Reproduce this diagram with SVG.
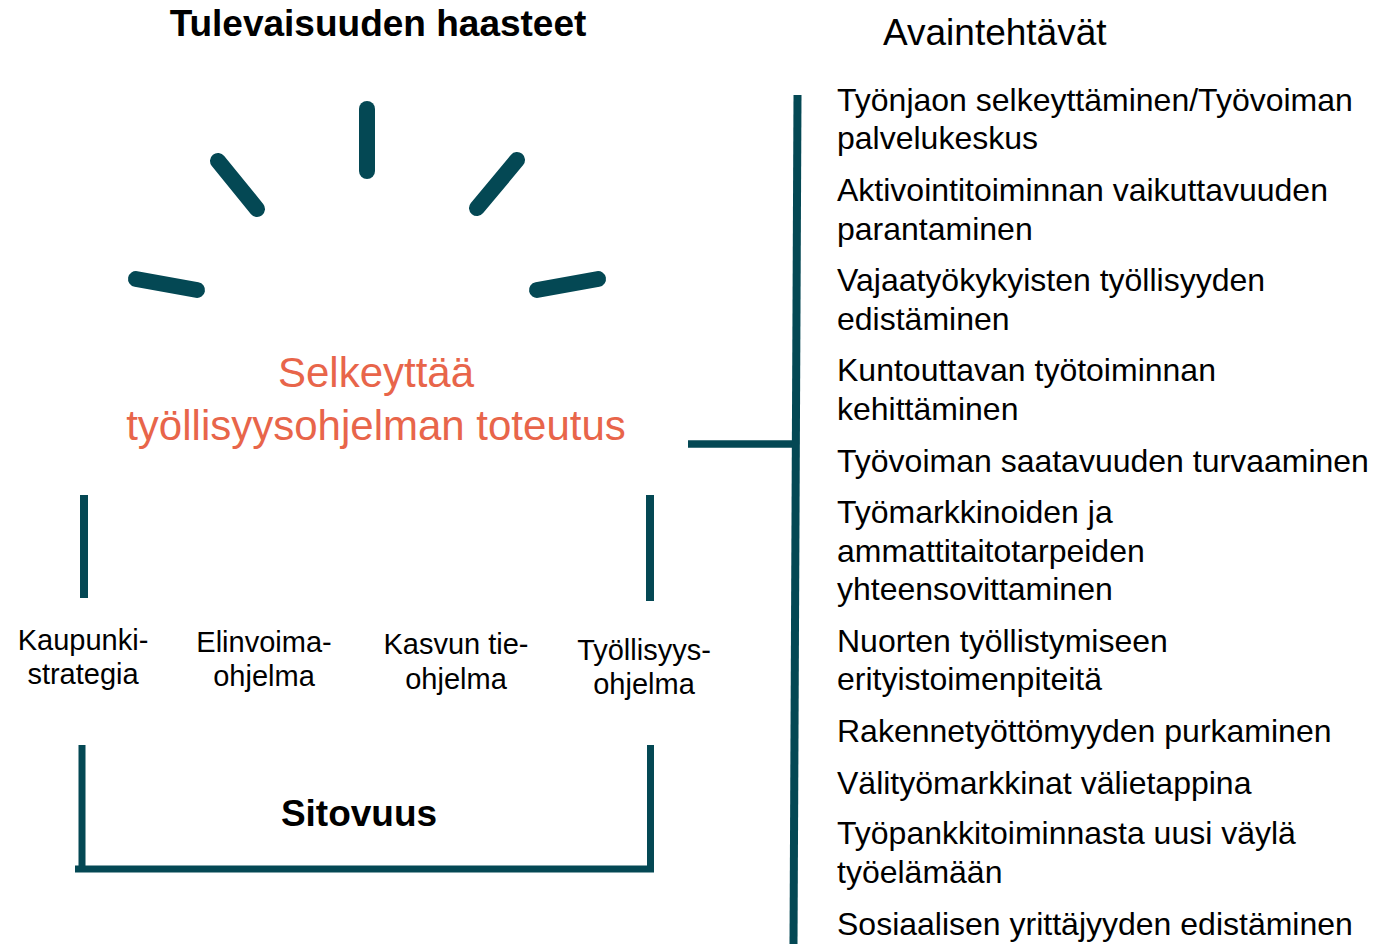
<svg xmlns="http://www.w3.org/2000/svg" width="1383" height="944" viewBox="0 0 1383 944">
<style>
.ray{stroke:#044854;stroke-width:16;stroke-linecap:round;fill:none}
.bar{stroke:#044854;fill:none}
.t{font-family:"Liberation Sans",Arial,sans-serif;fill:#000}
.item{font-size:32px}
.lbl{font-size:29px;text-anchor:middle}
.center{font-family:"Liberation Sans",Arial,sans-serif;font-size:42px;fill:#E8654A;text-anchor:middle}
</style>
<rect width="1383" height="944" fill="#fff"/>
<g id="title">
<text class="t" x="378" y="36" font-size="37" font-weight="bold" text-anchor="middle">Tulevaisuuden haasteet</text>
</g>
<g id="rays">
<line class="ray" x1="367" y1="109" x2="367" y2="171"/>
<line class="ray" x1="218" y1="161" x2="257" y2="209"/>
<line class="ray" x1="517" y1="160" x2="477" y2="208"/>
<line class="ray" x1="136" y1="279" x2="197" y2="290"/>
<line class="ray" x1="537" y1="290" x2="598" y2="279"/>
</g>
<g id="center">
<text class="center" x="376" y="387">Selkeyttää</text>
<text class="center" x="376" y="440">työllisyysohjelman toteutus</text>
</g>
<g id="connectors">
<line class="bar" x1="84" y1="495" x2="84" y2="598" stroke-width="8"/>
<line class="bar" x1="650" y1="495" x2="650" y2="601" stroke-width="8"/>
<path class="bar" d="M82 745 V869 M650.5 745 V869 M75 869 H654" stroke-width="7"/>
<line class="bar" x1="688" y1="444" x2="797" y2="444" stroke-width="7.5"/>
<line class="bar" x1="797.5" y1="95" x2="793.5" y2="944" stroke-width="8"/>
</g>
<g id="programs">
<text class="t lbl" x="83" y="650">Kaupunki-</text>
<text class="t lbl" x="83" y="684">strategia</text>
<text class="t lbl" x="264" y="652">Elinvoima-</text>
<text class="t lbl" x="264" y="686">ohjelma</text>
<text class="t lbl" x="456" y="654">Kasvun tie-</text>
<text class="t lbl" x="456" y="689">ohjelma</text>
<text class="t lbl" x="644" y="660">Työllisyys-</text>
<text class="t lbl" x="644" y="694">ohjelma</text>
</g>
<g id="sitovuus">
<text class="t" x="359" y="826" font-size="37" font-weight="bold" text-anchor="middle">Sitovuus</text>
</g>
<g id="avaintehtavat">
<text class="t" x="883" y="45" font-size="37">Avaintehtävät</text>
</g>
<g id="tasks">
<text class="t item" x="837" y="111">Työnjaon selkeyttäminen/Työvoiman</text>
<text class="t item" x="837" y="149">palvelukeskus</text>
<text class="t item" x="837" y="201">Aktivointitoiminnan vaikuttavuuden</text>
<text class="t item" x="837" y="240">parantaminen</text>
<text class="t item" x="837" y="291">Vajaatyökykyisten työllisyyden</text>
<text class="t item" x="837" y="330">edistäminen</text>
<text class="t item" x="837" y="381">Kuntouttavan työtoiminnan</text>
<text class="t item" x="837" y="420">kehittäminen</text>
<text class="t item" x="837" y="472">Työvoiman saatavuuden turvaaminen</text>
<text class="t item" x="837" y="523">Työmarkkinoiden ja</text>
<text class="t item" x="837" y="562">ammattitaitotarpeiden</text>
<text class="t item" x="837" y="600">yhteensovittaminen</text>
<text class="t item" x="837" y="652">Nuorten työllistymiseen</text>
<text class="t item" x="837" y="690">erityistoimenpiteitä</text>
<text class="t item" x="837" y="742">Rakennetyöttömyyden purkaminen</text>
<text class="t item" x="837" y="794">Välityömarkkinat välietappina</text>
<text class="t item" x="837" y="844">Työpankkitoiminnasta uusi väylä</text>
<text class="t item" x="837" y="883">työelämään</text>
<text class="t item" x="837" y="935">Sosiaalisen yrittäjyyden edistäminen</text>
</g>
</svg>
